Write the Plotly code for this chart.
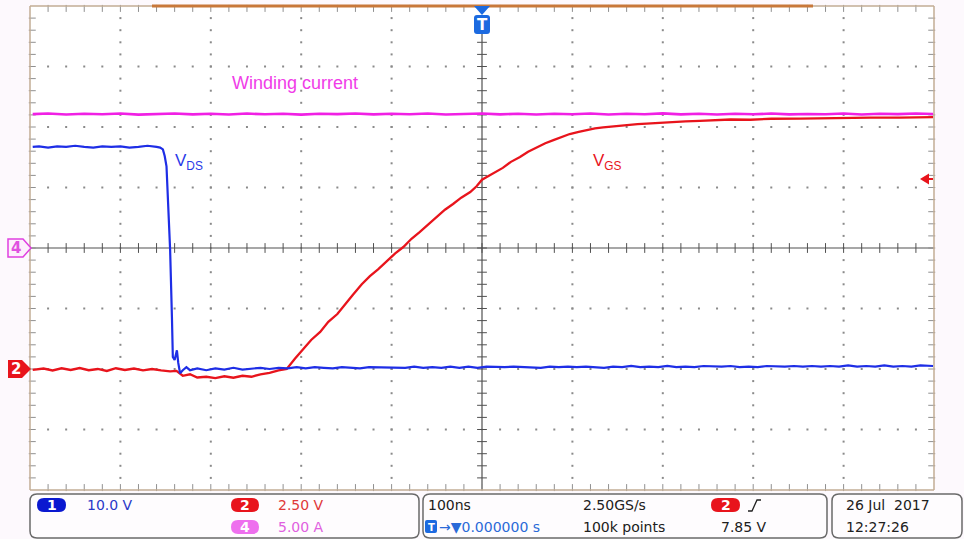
import plotly.graph_objects as go

# ---------------- data (read from the screen) ----------------
# time in ns (100 ns/div, trigger at 0)
t_vds = [-497, -490, -480, -470, -460, -450, -440, -430, -420, -410, -400, -390, -380, -370, -360, -356,
         -353, -351, -349, -347.5, -345, -343, -342, -340, -337.5, -336, -334, -331, -327, -323,
         -315, -305, -295, -285, -275, -265, -255, -245, -235, -225, -215, -205, -195, -185, -175, -165,
         -155, -145, -135, -125, -115, -105, -95, -85, -75, -65, -55, -45, -35, -25, -15, -5,
         5, 15, 25, 35, 45, 55, 65, 75, 85, 95, 105, 115, 125, 135, 145, 155, 165, 175, 185, 195,
         205, 215, 225, 235, 245, 255, 265, 275, 285, 295, 305, 315, 325, 335, 345, 355, 365, 375,
         385, 395, 405, 415, 425, 435, 445, 455, 465, 475, 485, 495, 499]
vds = [36.7, 36.8, 36.6, 36.8, 36.7, 36.9, 36.7, 36.6, 36.8, 36.7, 36.8, 36.6, 36.7, 36.9, 36.7, 36.6,
       36.3, 35.2, 33.5, 28.8, 19.7, 8.6, 2.0, 1.5, 3.1, 1.0, -0.7, -0.2, 0.3, -0.2,
       0.1, -0.2, 0.1, -0.1, 0.2, -0.1, 0.1, 0.2, 0.0, 0.2, 0.1, 0.3, 0.1, 0.3, 0.2, 0.1,
       0.3, 0.2, 0.1, 0.3, 0.3, 0.2, 0.3, 0.2, 0.4, 0.2, 0.3, 0.2, 0.4, 0.2, 0.4, 0.2,
       0.4, 0.3, 0.3, 0.4, 0.3, 0.3, 0.2, 0.4, 0.3, 0.4, 0.3, 0.4, 0.3, 0.2, 0.4, 0.3, 0.5, 0.3, 0.4, 0.3,
       0.5, 0.3, 0.4, 0.3, 0.5, 0.4, 0.4, 0.5, 0.3, 0.4, 0.3, 0.5, 0.4, 0.4, 0.5, 0.4, 0.5, 0.4,
       0.5, 0.4, 0.6, 0.4, 0.5, 0.4, 0.6, 0.4, 0.5, 0.4, 0.6, 0.5, 0.5]

t_vgs = [-497, -485, -475, -465, -455, -445, -435, -425, -415, -405, -395, -385, -375, -365, -355, -345,
         -338, -331, -323, -315, -305, -295, -285, -275, -265, -255, -245, -235, -225, -216,
         -207, -198, -189, -179, -170, -160, -151, -143, -133, -124, -115, -105, -96, -87, -78, -69,
         -59, -50, -41, -32, -23, -13, -6, 0, 11, 23, 32, 42, 51, 61, 70, 79, 88, 97, 107, 116,
         125, 134, 143, 153, 162, 172, 182, 191, 200, 208, 225, 241, 258, 275, 297, 320, 352, 380,
         407, 430, 462, 480, 499]
vgs = [-0.04, 0.02, -0.06, 0.03, -0.04, 0.04, -0.05, 0.00, -0.08, 0.03, -0.04, 0.02, -0.06, 0.00, -0.06, -0.10,
       -0.08, -0.28, -0.22, -0.35, -0.32, -0.38, -0.30, -0.36, -0.28, -0.32, -0.22, -0.16, -0.06, 0.00,
       0.42, 0.79, 1.20, 1.53, 1.95, 2.27, 2.70, 3.06, 3.50, 3.84, 4.12, 4.46, 4.78, 5.04, 5.38, 5.66,
       6.00, 6.28, 6.58, 6.82, 7.08, 7.31, 7.55, 7.82, 8.06, 8.31, 8.56, 8.76, 8.98, 9.17, 9.33, 9.46, 9.60, 9.71, 9.80, 9.88,
       9.94, 9.98, 10.02, 10.06, 10.08, 10.12, 10.14, 10.16, 10.19, 10.21, 10.23, 10.25, 10.27, 10.31, 10.30, 10.34, 10.35, 10.37,
       10.37, 10.39, 10.39, 10.41, 10.41]

t_iw = [-497, -480, -460, -440, -420, -400, -380, -360, -340, -320, -300, -280, -260, -240, -220, -200,
        -180, -160, -140, -120, -100, -80, -60, -40, -20, 0, 20, 40, 60, 80, 100, 120, 140, 160, 180,
        200, 220, 240, 260, 280, 300, 320, 340, 360, 380, 400, 420, 440, 460, 480, 499]
iw = [11.06, 11.12, 11.03, 11.09, 11.05, 11.11, 11.02, 11.08, 11.12, 11.04, 11.10, 11.03, 11.11, 11.05, 11.09, 11.02,
      11.10, 11.06, 11.12, 11.04, 11.09, 11.05, 11.11, 11.03, 11.08, 11.12, 11.04, 11.10, 11.03, 11.09, 11.05, 11.11,
      11.03, 11.09, 11.05, 11.13, 11.04, 11.09, 11.03, 11.10, 11.05, 11.11, 11.04, 11.08, 11.05, 11.11, 11.03, 11.09,
      11.06, 11.12, 11.08]

# channel settings (volts or amps per division, ground position in divisions)
ch1_scale, ch1_pos = 10.0, -2.0
ch2_scale, ch2_pos = 2.5, -2.0
ch4_scale, ch4_pos = 5.0, 0.0

# ---------------- geometry helpers ----------------
W, H = 964, 539
L, R, T, B = 30, 934, 6, 490


def fx(x):
    return (x - L) / (R - L)


def fy(y):
    return (B - y) / (B - T)


def to_div(vals, scale, pos):
    return [v / scale + pos for v in vals]


def path(pts, close=True):
    s = "M " + " L ".join(f"{fx(x):.5f},{fy(y):.5f}" for x, y in pts)
    return s + (" Z" if close else "")


def rrect(x0, y0, x1, y1, r):
    P = lambda x, y: f"{fx(x):.5f},{fy(y):.5f}"
    return (f"M {P(x0 + r, y0)} L {P(x1 - r, y0)} Q {P(x1, y0)} {P(x1, y0 + r)} "
            f"L {P(x1, y1 - r)} Q {P(x1, y1)} {P(x1 - r, y1)} L {P(x0 + r, y1)} "
            f"Q {P(x0, y1)} {P(x0, y1 - r)} L {P(x0, y0 + r)} Q {P(x0, y0)} {P(x0 + r, y0)} Z")


fig = go.Figure()

# ---------------- graticule ----------------
gx, gy = [], []
for xv in [-400, -300, -200, -100, 100, 200, 300, 400]:
    for k in range(1, 40):
        gx.append(xv); gy.append(-4 + 0.2 * k)
for yv in [-3, -2, -1, 1, 2, 3]:
    for k in range(1, 50):
        gx.append(-500 + 20 * k); gy.append(yv)
fig.add_trace(go.Scatter(x=gx, y=gy, mode="markers", hoverinfo="skip",
                         marker=dict(symbol="square", size=2, color="#8a8a8a", line=dict(width=0))))

# center-line ticks
cx = [-500 + 20 * k for k in range(1, 50)]
cy = [-4 + 0.2 * k for k in range(1, 40)]
fig.add_trace(go.Scatter(x=cx, y=[0] * len(cx), mode="markers", hoverinfo="skip",
                         marker=dict(symbol="line-ns", size=7, line=dict(width=1, color="#505050"))))
fig.add_trace(go.Scatter(x=[0] * len(cy), y=cy, mode="markers", hoverinfo="skip",
                         marker=dict(symbol="line-ew", size=7, line=dict(width=1, color="#505050"))))
# border ticks
fig.add_trace(go.Scatter(x=[-497.5] * len(cy) + [497.5] * len(cy), y=cy + cy, mode="markers", hoverinfo="skip",
                         marker=dict(symbol="line-ew", size=5, line=dict(width=1, color="#909090"))))
fig.add_trace(go.Scatter(x=cx + cx, y=[3.96] * len(cx) + [-3.96] * len(cx), mode="markers", hoverinfo="skip",
                         marker=dict(symbol="line-ns", size=5, line=dict(width=1, color="#909090"))))

# ---------------- waveforms ----------------
fig.add_trace(go.Scatter(x=t_iw, y=to_div(iw, ch4_scale, ch4_pos), mode="lines", hoverinfo="skip",
                         line=dict(color="#f020e4", width=2.6)))
fig.add_trace(go.Scatter(x=t_vgs, y=to_div(vgs, ch2_scale, ch2_pos), mode="lines", hoverinfo="skip",
                         line=dict(color="#e8141c", width=2.3)))
fig.add_trace(go.Scatter(x=t_vds, y=to_div(vds, ch1_scale, ch1_pos), mode="lines", hoverinfo="skip",
                         line=dict(color="#1e2ee6", width=2.2)))

shapes = []
# center lines
shapes.append(dict(type="line", xref="x", yref="y", x0=-500, x1=500, y0=0, y1=0,
                   line=dict(color="#505050", width=1.2), layer="below"))
shapes.append(dict(type="line", xref="x", yref="y", x0=0, x1=0, y0=-4, y1=3.55,
                   line=dict(color="#505050", width=1.2), layer="below"))
# borders
for (x0, y0, x1, y1) in [(L, T, L, B), (R, T, R, B), (L, B, R, B), (L, T, R, T)]:
    shapes.append(dict(type="line", xref="paper", yref="paper", x0=fx(x0), y0=fy(y0), x1=fx(x1), y1=fy(y1),
                       line=dict(color="#c2ad94", width=1.5)))
shapes.append(dict(type="line", xref="paper", yref="paper", x0=fx(152), y0=fy(6), x1=fx(813), y1=fy(6),
                   line=dict(color="#c8783a", width=3)))

# trigger position marker (top)
shapes.append(dict(type="path", xref="paper", yref="paper",
                   path=path([(474, 6), (490, 6), (482, 15)]), fillcolor="#1c6ae0", line=dict(width=0)))
shapes.append(dict(type="path", xref="paper", yref="paper", path=rrect(474, 15, 490, 34, 3),
                   fillcolor="#1c6ae0", line=dict(width=0)))
# trigger level arrow (right)
shapes.append(dict(type="path", xref="paper", yref="paper",
                   path=path([(920, 179), (929, 173.5), (929, 184.5)]), fillcolor="#e8141c", line=dict(width=0)))
shapes.append(dict(type="line", xref="paper", yref="paper", x0=fx(928), x1=fx(933), y0=fy(179), y1=fy(179),
                   line=dict(color="#e8141c", width=2)))
# channel ground markers (left)
shapes.append(dict(type="path", xref="paper", yref="paper",
                   path=path([(8, 239), (23, 239), (31, 248), (23, 257), (8, 257)]),
                   fillcolor="#fdf0fc", line=dict(color="#e040e0", width=1.5)))
shapes.append(dict(type="path", xref="paper", yref="paper",
                   path=path([(8, 360), (22, 360), (31, 369), (22, 378), (8, 378)]),
                   fillcolor="#e8141c", line=dict(width=0)))

# status bar boxes
for (x0, x1) in [(30, 419), (423, 827), (832, 962)]:
    shapes.append(dict(type="path", xref="paper", yref="paper", path=rrect(x0, 494, x1, 538, 7),
                       fillcolor="#fefcfe", line=dict(color="#6a6a6a", width=1.5)))
# badges
badges = [(37, 66, 498, 512, "#0a18d0"), (231, 259, 498, 512, "#e8141c"), (231, 259, 520, 534, "#ee70ee"),
          (711, 740, 498, 512, "#e8141c")]
for (x0, x1, y0, y1, c) in badges:
    shapes.append(dict(type="path", xref="paper", yref="paper", path=rrect(x0, y0, x1, y1, 7),
                       fillcolor=c, line=dict(width=0)))
shapes.append(dict(type="path", xref="paper", yref="paper", path=rrect(425, 520, 437, 533, 2),
                   fillcolor="#1c6ae0", line=dict(width=0)))
# rising-edge trigger slope symbol
shapes.append(dict(type="path", xref="paper", yref="paper",
                   path=path([(748, 511), (752, 511), (757, 500), (761, 500)], close=False),
                   line=dict(color="#202020", width=1.3)))

anns = []


def ann(x, y, text, color, size=14, family="DejaVu Sans", xanchor="left"):
    anns.append(dict(x=fx(x), y=fy(y), xref="paper", yref="paper", text=text, showarrow=False,
                     xanchor=xanchor, yanchor="middle", font=dict(color=color, size=size, family=family),
                     borderpad=0))


# trace labels
ann(231, 83, "Winding current", "#f03ce8", 18, "Liberation Sans")
ann(174, 162, "V<sub>DS</sub>", "#2a3ae8", 17, "Liberation Sans")
ann(592, 162, "V<sub>GS</sub>", "#e8141c", 17, "Liberation Sans")
# markers text
ann(482, 25, "<b>T</b>", "white", 15, "DejaVu Sans", "center")
ann(16, 248, "<b>4</b>", "#e050e0", 15, "DejaVu Sans", "center")
ann(16, 369, "<b>2</b>", "white", 15, "DejaVu Sans", "center")
# status bar
ann(51.5, 505, "<b>1</b>", "white", 14, "DejaVu Sans", "center")
ann(245, 505, "<b>2</b>", "white", 14, "DejaVu Sans", "center")
ann(245, 527, "<b>4</b>", "white", 14, "DejaVu Sans", "center")
ann(725.5, 505, "<b>2</b>", "white", 14, "DejaVu Sans", "center")
ann(431, 527, "<b>T</b>", "white", 10, "DejaVu Sans", "center")
ann(86, 505, "10.0 V", "#2a38c8", 14)
ann(277, 505, "2.50 V", "#e03838", 14)
ann(277, 527, "5.00 A", "#e060e0", 14)
ann(427, 505, "100ns", "#202020", 14)
ann(438, 527, "→▼0.000000 s", "#2a6ad8", 14)
ann(582, 505, "2.50GS/s", "#202020", 14)
ann(582, 527, "100k points", "#202020", 14)
ann(720, 527, "7.85 V", "#202020", 14)
ann(845, 505, "26 Jul  2017", "#202020", 14)
ann(845, 527, "12:27:26", "#202020", 14)

fig.update_layout(
    width=W, height=H, autosize=False,
    margin=dict(l=L, r=W - R, t=T, b=H - B, pad=0),
    paper_bgcolor="#fdf9fd", plot_bgcolor="white",
    showlegend=False, hovermode=False,
    xaxis=dict(range=[-500, 500], showgrid=False, zeroline=False, showticklabels=False, ticks="", fixedrange=True),
    yaxis=dict(range=[-4, 4], showgrid=False, zeroline=False, showticklabels=False, ticks="", fixedrange=True),
    shapes=shapes, annotations=anns,
)
fig.update_traces(cliponaxis=False, selector=dict(mode="markers"))

fig.write_html("out.html")
